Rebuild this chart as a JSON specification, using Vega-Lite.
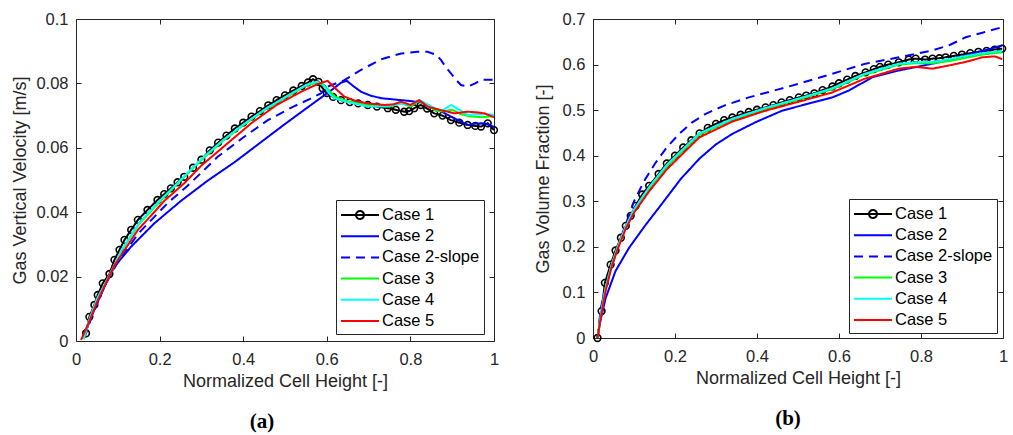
{
  "$schema": "https://vega.github.io/schema/vega-lite/v6.json",
  "background": "white",
  "padding": {"left": 11, "top": 10, "right": 5, "bottom": 5},
  "spacing": 31,
  "datasets": {
    "a": [
      {"series":"Case 1","h":0.024,"v":0.0024},{"series":"Case 1","h":0.032,"v":0.0075},{"series":"Case 1","h":0.044,"v":0.0112},{"series":"Case 1","h":0.052,"v":0.0143},{"series":"Case 1","h":0.064,"v":0.0179},{"series":"Case 1","h":0.08,"v":0.0208},{"series":"Case 1","h":0.092,"v":0.0252},{"series":"Case 1","h":0.104,"v":0.0283},{"series":"Case 1","h":0.116,"v":0.0314},{"series":"Case 1","h":0.132,"v":0.0345},{"series":"Case 1","h":0.148,"v":0.0376},{"series":"Case 1","h":0.171,"v":0.0407},{"series":"Case 1","h":0.195,"v":0.0438},{"series":"Case 1","h":0.211,"v":0.0456},{"series":"Case 1","h":0.227,"v":0.0474},{"series":"Case 1","h":0.243,"v":0.0493},{"series":"Case 1","h":0.259,"v":0.051},{"series":"Case 1","h":0.28,"v":0.0538},{"series":"Case 1","h":0.3,"v":0.0563},{"series":"Case 1","h":0.32,"v":0.0592},{"series":"Case 1","h":0.34,"v":0.0616},{"series":"Case 1","h":0.36,"v":0.0638},{"series":"Case 1","h":0.38,"v":0.066},{"series":"Case 1","h":0.4,"v":0.0678},{"series":"Case 1","h":0.42,"v":0.0697},{"series":"Case 1","h":0.44,"v":0.0714},{"series":"Case 1","h":0.46,"v":0.0732},{"series":"Case 1","h":0.48,"v":0.0748},{"series":"Case 1","h":0.5,"v":0.0763},{"series":"Case 1","h":0.52,"v":0.0778},{"series":"Case 1","h":0.54,"v":0.0792},{"series":"Case 1","h":0.555,"v":0.0803},{"series":"Case 1","h":0.567,"v":0.0813},{"series":"Case 1","h":0.58,"v":0.0805},{"series":"Case 1","h":0.59,"v":0.0785},{"series":"Case 1","h":0.6,"v":0.077},{"series":"Case 1","h":0.615,"v":0.0758},{"series":"Case 1","h":0.634,"v":0.0748},{"series":"Case 1","h":0.655,"v":0.0742},{"series":"Case 1","h":0.675,"v":0.0738},{"series":"Case 1","h":0.698,"v":0.0733},{"series":"Case 1","h":0.72,"v":0.0728},{"series":"Case 1","h":0.746,"v":0.0723},{"series":"Case 1","h":0.765,"v":0.0718},{"series":"Case 1","h":0.785,"v":0.0712},{"series":"Case 1","h":0.797,"v":0.0714},{"series":"Case 1","h":0.809,"v":0.0723},{"series":"Case 1","h":0.825,"v":0.0733},{"series":"Case 1","h":0.84,"v":0.0722},{"series":"Case 1","h":0.857,"v":0.0707},{"series":"Case 1","h":0.877,"v":0.07},{"series":"Case 1","h":0.897,"v":0.0686},{"series":"Case 1","h":0.917,"v":0.0678},{"series":"Case 1","h":0.937,"v":0.0671},{"series":"Case 1","h":0.955,"v":0.0668},{"series":"Case 1","h":0.969,"v":0.0666},{"series":"Case 1","h":0.985,"v":0.0676},{"series":"Case 1","h":1.0,"v":0.0655},
      {"series":"Case 2","h":0.02,"v":0.0019},{"series":"Case 2","h":0.04,"v":0.0085},{"series":"Case 2","h":0.068,"v":0.0169},{"series":"Case 2","h":0.092,"v":0.0231},{"series":"Case 2","h":0.132,"v":0.0293},{"series":"Case 2","h":0.187,"v":0.0365},{"series":"Case 2","h":0.251,"v":0.0435},{"series":"Case 2","h":0.315,"v":0.0498},{"series":"Case 2","h":0.379,"v":0.0555},{"series":"Case 2","h":0.44,"v":0.0615},{"series":"Case 2","h":0.498,"v":0.0672},{"series":"Case 2","h":0.54,"v":0.0712},{"series":"Case 2","h":0.578,"v":0.0748},{"series":"Case 2","h":0.61,"v":0.0778},{"series":"Case 2","h":0.634,"v":0.0802},{"series":"Case 2","h":0.648,"v":0.0808},{"series":"Case 2","h":0.665,"v":0.079},{"series":"Case 2","h":0.682,"v":0.0774},{"series":"Case 2","h":0.705,"v":0.0762},{"series":"Case 2","h":0.73,"v":0.0754},{"series":"Case 2","h":0.778,"v":0.0748},{"series":"Case 2","h":0.802,"v":0.0745},{"series":"Case 2","h":0.83,"v":0.074},{"series":"Case 2","h":0.857,"v":0.0723},{"series":"Case 2","h":0.875,"v":0.0712},{"series":"Case 2","h":0.897,"v":0.0697},{"series":"Case 2","h":0.92,"v":0.0682},{"series":"Case 2","h":0.937,"v":0.0671},{"series":"Case 2","h":0.955,"v":0.0675},{"series":"Case 2","h":0.977,"v":0.0676},{"series":"Case 2","h":1.0,"v":0.0665},
      {"series":"Case 2-slope","h":0.02,"v":0.001},{"series":"Case 2-slope","h":0.04,"v":0.0085},{"series":"Case 2-slope","h":0.07,"v":0.0175},{"series":"Case 2-slope","h":0.1,"v":0.0245},{"series":"Case 2-slope","h":0.15,"v":0.0335},{"series":"Case 2-slope","h":0.219,"v":0.0428},{"series":"Case 2-slope","h":0.267,"v":0.0482},{"series":"Case 2-slope","h":0.339,"v":0.0572},{"series":"Case 2-slope","h":0.4,"v":0.0632},{"series":"Case 2-slope","h":0.459,"v":0.0686},{"series":"Case 2-slope","h":0.52,"v":0.0728},{"series":"Case 2-slope","h":0.56,"v":0.0752},{"series":"Case 2-slope","h":0.586,"v":0.0769},{"series":"Case 2-slope","h":0.602,"v":0.079},{"series":"Case 2-slope","h":0.642,"v":0.081},{"series":"Case 2-slope","h":0.682,"v":0.0842},{"series":"Case 2-slope","h":0.73,"v":0.0875},{"series":"Case 2-slope","h":0.778,"v":0.0893},{"series":"Case 2-slope","h":0.817,"v":0.0898},{"series":"Case 2-slope","h":0.841,"v":0.0898},{"series":"Case 2-slope","h":0.86,"v":0.089},{"series":"Case 2-slope","h":0.873,"v":0.0873},{"series":"Case 2-slope","h":0.885,"v":0.085},{"series":"Case 2-slope","h":0.897,"v":0.0831},{"series":"Case 2-slope","h":0.91,"v":0.081},{"series":"Case 2-slope","h":0.921,"v":0.0795},{"series":"Case 2-slope","h":0.937,"v":0.079},{"series":"Case 2-slope","h":0.955,"v":0.08},{"series":"Case 2-slope","h":0.969,"v":0.0811},{"series":"Case 2-slope","h":1.0,"v":0.0811},
      {"series":"Case 3","h":0.018,"v":0.0005},{"series":"Case 3","h":0.03,"v":0.0058},{"series":"Case 3","h":0.05,"v":0.0128},{"series":"Case 3","h":0.08,"v":0.0203},{"series":"Case 3","h":0.11,"v":0.0283},{"series":"Case 3","h":0.15,"v":0.0362},{"series":"Case 3","h":0.2,"v":0.0432},{"series":"Case 3","h":0.25,"v":0.0498},{"series":"Case 3","h":0.3,"v":0.0562},{"series":"Case 3","h":0.35,"v":0.062},{"series":"Case 3","h":0.4,"v":0.067},{"series":"Case 3","h":0.45,"v":0.0716},{"series":"Case 3","h":0.5,"v":0.0755},{"series":"Case 3","h":0.55,"v":0.0793},{"series":"Case 3","h":0.578,"v":0.0803},{"series":"Case 3","h":0.59,"v":0.0795},{"series":"Case 3","h":0.6,"v":0.0785},{"series":"Case 3","h":0.62,"v":0.0758},{"series":"Case 3","h":0.65,"v":0.0745},{"series":"Case 3","h":0.7,"v":0.0733},{"series":"Case 3","h":0.75,"v":0.0728},{"series":"Case 3","h":0.78,"v":0.0738},{"series":"Case 3","h":0.8,"v":0.0728},{"series":"Case 3","h":0.82,"v":0.0745},{"series":"Case 3","h":0.84,"v":0.0735},{"series":"Case 3","h":0.86,"v":0.0715},{"series":"Case 3","h":0.88,"v":0.0713},{"series":"Case 3","h":0.9,"v":0.0718},{"series":"Case 3","h":0.92,"v":0.0705},{"series":"Case 3","h":0.94,"v":0.0698},{"series":"Case 3","h":0.97,"v":0.0695},{"series":"Case 3","h":1.0,"v":0.0698},
      {"series":"Case 4","h":0.018,"v":0.0006},{"series":"Case 4","h":0.03,"v":0.006},{"series":"Case 4","h":0.05,"v":0.013},{"series":"Case 4","h":0.08,"v":0.0205},{"series":"Case 4","h":0.11,"v":0.0285},{"series":"Case 4","h":0.15,"v":0.0365},{"series":"Case 4","h":0.2,"v":0.0435},{"series":"Case 4","h":0.25,"v":0.05},{"series":"Case 4","h":0.3,"v":0.0565},{"series":"Case 4","h":0.35,"v":0.0622},{"series":"Case 4","h":0.4,"v":0.0672},{"series":"Case 4","h":0.45,"v":0.0718},{"series":"Case 4","h":0.5,"v":0.0757},{"series":"Case 4","h":0.55,"v":0.0795},{"series":"Case 4","h":0.575,"v":0.0805},{"series":"Case 4","h":0.59,"v":0.08},{"series":"Case 4","h":0.605,"v":0.077},{"series":"Case 4","h":0.618,"v":0.0754},{"series":"Case 4","h":0.65,"v":0.0742},{"series":"Case 4","h":0.698,"v":0.0728},{"series":"Case 4","h":0.74,"v":0.0728},{"series":"Case 4","h":0.778,"v":0.0738},{"series":"Case 4","h":0.8,"v":0.0732},{"series":"Case 4","h":0.821,"v":0.0749},{"series":"Case 4","h":0.84,"v":0.0735},{"series":"Case 4","h":0.857,"v":0.0723},{"series":"Case 4","h":0.875,"v":0.0715},{"series":"Case 4","h":0.897,"v":0.0733},{"series":"Case 4","h":0.915,"v":0.072},{"series":"Case 4","h":0.937,"v":0.0702},{"series":"Case 4","h":0.96,"v":0.0705},{"series":"Case 4","h":0.98,"v":0.0705},{"series":"Case 4","h":1.0,"v":0.0702},
      {"series":"Case 5","h":0.012,"v":0.0003},{"series":"Case 5","h":0.03,"v":0.0055},{"series":"Case 5","h":0.05,"v":0.012},{"series":"Case 5","h":0.07,"v":0.0175},{"series":"Case 5","h":0.092,"v":0.0235},{"series":"Case 5","h":0.12,"v":0.029},{"series":"Case 5","h":0.148,"v":0.0345},{"series":"Case 5","h":0.18,"v":0.039},{"series":"Case 5","h":0.211,"v":0.0435},{"series":"Case 5","h":0.259,"v":0.049},{"series":"Case 5","h":0.3,"v":0.0545},{"series":"Case 5","h":0.35,"v":0.06},{"series":"Case 5","h":0.419,"v":0.0676},{"series":"Case 5","h":0.48,"v":0.0733},{"series":"Case 5","h":0.54,"v":0.0775},{"series":"Case 5","h":0.578,"v":0.0798},{"series":"Case 5","h":0.602,"v":0.0808},{"series":"Case 5","h":0.62,"v":0.0785},{"series":"Case 5","h":0.642,"v":0.0759},{"series":"Case 5","h":0.67,"v":0.0745},{"series":"Case 5","h":0.698,"v":0.0738},{"series":"Case 5","h":0.738,"v":0.0733},{"series":"Case 5","h":0.76,"v":0.0735},{"series":"Case 5","h":0.778,"v":0.0743},{"series":"Case 5","h":0.8,"v":0.0733},{"series":"Case 5","h":0.821,"v":0.0748},{"series":"Case 5","h":0.841,"v":0.0728},{"series":"Case 5","h":0.873,"v":0.0717},{"series":"Case 5","h":0.905,"v":0.0707},{"series":"Case 5","h":0.937,"v":0.0712},{"series":"Case 5","h":0.96,"v":0.071},{"series":"Case 5","h":0.977,"v":0.0707},{"series":"Case 5","h":1.0,"v":0.0695}
    ],
    "b": [
      {"series":"Case 1","h":0.011,"v":0},{"series":"Case 1","h":0.021,"v":0.059},{"series":"Case 1","h":0.029,"v":0.121},{"series":"Case 1","h":0.043,"v":0.161},{"series":"Case 1","h":0.055,"v":0.192},{"series":"Case 1","h":0.068,"v":0.22},{"series":"Case 1","h":0.08,"v":0.246},{"series":"Case 1","h":0.092,"v":0.268},{"series":"Case 1","h":0.104,"v":0.29},{"series":"Case 1","h":0.12,"v":0.315},{"series":"Case 1","h":0.137,"v":0.334},{"series":"Case 1","h":0.16,"v":0.36},{"series":"Case 1","h":0.18,"v":0.383},{"series":"Case 1","h":0.2,"v":0.4},{"series":"Case 1","h":0.22,"v":0.418},{"series":"Case 1","h":0.24,"v":0.434},{"series":"Case 1","h":0.26,"v":0.449},{"series":"Case 1","h":0.28,"v":0.461},{"series":"Case 1","h":0.3,"v":0.47},{"series":"Case 1","h":0.32,"v":0.478},{"series":"Case 1","h":0.34,"v":0.484},{"series":"Case 1","h":0.36,"v":0.49},{"series":"Case 1","h":0.38,"v":0.496},{"series":"Case 1","h":0.4,"v":0.501},{"series":"Case 1","h":0.421,"v":0.506},{"series":"Case 1","h":0.44,"v":0.511},{"series":"Case 1","h":0.46,"v":0.517},{"series":"Case 1","h":0.48,"v":0.522},{"series":"Case 1","h":0.502,"v":0.528},{"series":"Case 1","h":0.52,"v":0.532},{"series":"Case 1","h":0.54,"v":0.537},{"series":"Case 1","h":0.56,"v":0.544},{"series":"Case 1","h":0.584,"v":0.552},{"series":"Case 1","h":0.6,"v":0.559},{"series":"Case 1","h":0.62,"v":0.567},{"series":"Case 1","h":0.64,"v":0.575},{"series":"Case 1","h":0.665,"v":0.583},{"series":"Case 1","h":0.685,"v":0.59},{"series":"Case 1","h":0.7,"v":0.595},{"series":"Case 1","h":0.72,"v":0.6},{"series":"Case 1","h":0.746,"v":0.605},{"series":"Case 1","h":0.77,"v":0.611},{"series":"Case 1","h":0.787,"v":0.613},{"series":"Case 1","h":0.81,"v":0.611},{"series":"Case 1","h":0.828,"v":0.613},{"series":"Case 1","h":0.845,"v":0.614},{"series":"Case 1","h":0.86,"v":0.616},{"series":"Case 1","h":0.88,"v":0.619},{"series":"Case 1","h":0.9,"v":0.622},{"series":"Case 1","h":0.92,"v":0.625},{"series":"Case 1","h":0.94,"v":0.628},{"series":"Case 1","h":0.96,"v":0.63},{"series":"Case 1","h":0.98,"v":0.633},{"series":"Case 1","h":0.998,"v":0.635},
      {"series":"Case 2","h":0.011,"v":0},{"series":"Case 2","h":0.016,"v":0.03},{"series":"Case 2","h":0.031,"v":0.088},{"series":"Case 2","h":0.055,"v":0.147},{"series":"Case 2","h":0.088,"v":0.198},{"series":"Case 2","h":0.129,"v":0.249},{"series":"Case 2","h":0.16,"v":0.285},{"series":"Case 2","h":0.215,"v":0.35},{"series":"Case 2","h":0.26,"v":0.394},{"series":"Case 2","h":0.3,"v":0.425},{"series":"Case 2","h":0.34,"v":0.448},{"series":"Case 2","h":0.4,"v":0.475},{"series":"Case 2","h":0.462,"v":0.499},{"series":"Case 2","h":0.52,"v":0.513},{"series":"Case 2","h":0.584,"v":0.528},{"series":"Case 2","h":0.624,"v":0.543},{"series":"Case 2","h":0.681,"v":0.572},{"series":"Case 2","h":0.746,"v":0.587},{"series":"Case 2","h":0.828,"v":0.602},{"series":"Case 2","h":0.87,"v":0.61},{"series":"Case 2","h":0.909,"v":0.62},{"series":"Case 2","h":0.95,"v":0.63},{"series":"Case 2","h":0.998,"v":0.642},
      {"series":"Case 2-slope","h":0.011,"v":0},{"series":"Case 2-slope","h":0.019,"v":0.066},{"series":"Case 2-slope","h":0.039,"v":0.139},{"series":"Case 2-slope","h":0.071,"v":0.227},{"series":"Case 2-slope","h":0.1,"v":0.3},{"series":"Case 2-slope","h":0.125,"v":0.345},{"series":"Case 2-slope","h":0.153,"v":0.385},{"series":"Case 2-slope","h":0.18,"v":0.418},{"series":"Case 2-slope","h":0.21,"v":0.448},{"series":"Case 2-slope","h":0.24,"v":0.472},{"series":"Case 2-slope","h":0.275,"v":0.492},{"series":"Case 2-slope","h":0.32,"v":0.51},{"series":"Case 2-slope","h":0.38,"v":0.528},{"series":"Case 2-slope","h":0.45,"v":0.545},{"series":"Case 2-slope","h":0.502,"v":0.558},{"series":"Case 2-slope","h":0.584,"v":0.58},{"series":"Case 2-slope","h":0.665,"v":0.602},{"series":"Case 2-slope","h":0.746,"v":0.616},{"series":"Case 2-slope","h":0.828,"v":0.631},{"series":"Case 2-slope","h":0.87,"v":0.643},{"series":"Case 2-slope","h":0.909,"v":0.66},{"series":"Case 2-slope","h":0.95,"v":0.67},{"series":"Case 2-slope","h":0.998,"v":0.682},
      {"series":"Case 3","h":0.011,"v":0},{"series":"Case 3","h":0.02,"v":0.055},{"series":"Case 3","h":0.03,"v":0.105},{"series":"Case 3","h":0.045,"v":0.158},{"series":"Case 3","h":0.06,"v":0.198},{"series":"Case 3","h":0.08,"v":0.243},{"series":"Case 3","h":0.1,"v":0.28},{"series":"Case 3","h":0.137,"v":0.328},{"series":"Case 3","h":0.18,"v":0.376},{"series":"Case 3","h":0.259,"v":0.446},{"series":"Case 3","h":0.34,"v":0.479},{"series":"Case 3","h":0.421,"v":0.503},{"series":"Case 3","h":0.5,"v":0.523},{"series":"Case 3","h":0.584,"v":0.546},{"series":"Case 3","h":0.66,"v":0.577},{"series":"Case 3","h":0.746,"v":0.6},{"series":"Case 3","h":0.787,"v":0.603},{"series":"Case 3","h":0.828,"v":0.603},{"series":"Case 3","h":0.87,"v":0.608},{"series":"Case 3","h":0.91,"v":0.615},{"series":"Case 3","h":0.95,"v":0.622},{"series":"Case 3","h":0.998,"v":0.627},
      {"series":"Case 4","h":0.011,"v":0},{"series":"Case 4","h":0.02,"v":0.056},{"series":"Case 4","h":0.03,"v":0.108},{"series":"Case 4","h":0.045,"v":0.16},{"series":"Case 4","h":0.06,"v":0.2},{"series":"Case 4","h":0.08,"v":0.245},{"series":"Case 4","h":0.1,"v":0.282},{"series":"Case 4","h":0.137,"v":0.331},{"series":"Case 4","h":0.18,"v":0.38},{"series":"Case 4","h":0.259,"v":0.449},{"series":"Case 4","h":0.34,"v":0.481},{"series":"Case 4","h":0.421,"v":0.505},{"series":"Case 4","h":0.5,"v":0.525},{"series":"Case 4","h":0.584,"v":0.548},{"series":"Case 4","h":0.66,"v":0.579},{"series":"Case 4","h":0.746,"v":0.602},{"series":"Case 4","h":0.787,"v":0.605},{"series":"Case 4","h":0.828,"v":0.606},{"series":"Case 4","h":0.87,"v":0.612},{"series":"Case 4","h":0.91,"v":0.619},{"series":"Case 4","h":0.95,"v":0.625},{"series":"Case 4","h":0.998,"v":0.63},
      {"series":"Case 5","h":0.011,"v":0},{"series":"Case 5","h":0.02,"v":0.05},{"series":"Case 5","h":0.03,"v":0.1},{"series":"Case 5","h":0.045,"v":0.155},{"series":"Case 5","h":0.06,"v":0.195},{"series":"Case 5","h":0.08,"v":0.24},{"series":"Case 5","h":0.1,"v":0.275},{"series":"Case 5","h":0.137,"v":0.322},{"series":"Case 5","h":0.18,"v":0.37},{"series":"Case 5","h":0.259,"v":0.44},{"series":"Case 5","h":0.34,"v":0.475},{"series":"Case 5","h":0.421,"v":0.499},{"series":"Case 5","h":0.5,"v":0.518},{"series":"Case 5","h":0.584,"v":0.539},{"series":"Case 5","h":0.66,"v":0.568},{"series":"Case 5","h":0.746,"v":0.591},{"series":"Case 5","h":0.787,"v":0.595},{"series":"Case 5","h":0.828,"v":0.591},{"series":"Case 5","h":0.868,"v":0.598},{"series":"Case 5","h":0.91,"v":0.606},{"series":"Case 5","h":0.95,"v":0.616},{"series":"Case 5","h":0.98,"v":0.618},{"series":"Case 5","h":0.998,"v":0.612}
    ]
  },
  "hconcat": [
    {
      "width": 418,
      "height": 322,
      "data": {"name": "a"},
      "title": {"text": "(a)", "orient": "bottom", "font": "Liberation Serif", "fontSize": 21, "fontWeight": "bold", "color": "#000000", "offset": 20, "dx": -23, "anchor": "middle"},
      "layer": [
        {
          "transform": [{"filter": "datum.series === 'Case 1'"}],
          "mark": {"type": "point", "shape": "circle", "filled": false, "size": 45, "strokeWidth": 1.6, "color": "#000000", "opacity": 1},
          "encoding": {
            "x": {"field": "h", "type": "quantitative", "scale": {"domain": [0, 1], "nice": false, "zero": false}, "axis": null},
            "y": {"field": "v", "type": "quantitative", "scale": {"domain": [0, 0.1], "nice": false}, "axis": null}
          }
        },
        {
          "mark": {"type": "line", "strokeWidth": 2},
          "encoding": {
            "x": {"field": "h", "type": "quantitative", "axis": {"orient": "bottom", "title": "Normalized Cell Height [-]", "values": [0, 0.2, 0.4, 0.6, 0.8, 1], "titlePadding": 5}},
            "y": {"field": "v", "type": "quantitative", "axis": {"orient": "left", "title": "Gas Vertical Velocity [m/s]", "values": [0, 0.02, 0.04, 0.06, 0.08, 0.1], "titlePadding": 6}},
            "color": {"field": "series", "type": "nominal", "scale": {"domain": ["Case 1", "Case 2", "Case 2-slope", "Case 3", "Case 4", "Case 5"], "range": ["#000000", "#0000ff", "#0000ff", "#00ff00", "#00ffff", "#ff0000"]}, "legend": {"orient": "none", "legendX": 260, "legendY": 181, "encode": {"symbols": {"update": {"shape": {"signal": "datum.value === 'Case 1' ? 'M-1,0L2.8,0M1.3,0A0.4,0.4,0,1,1,0.5,0A0.4,0.4,0,1,1,1.3,0' : 'M-1,0L2.8,0'"}}}}}},
            "strokeDash": {"field": "series", "type": "nominal", "scale": {"domain": ["Case 1", "Case 2", "Case 2-slope", "Case 3", "Case 4", "Case 5"], "range": [[1, 0], [1, 0], [9, 6], [1, 0], [1, 0], [1, 0]]}, "legend": {"orient": "none", "legendX": 260, "legendY": 181}}
          }
        },
        {
          "mark": {"type": "line", "opacity": 0},
          "encoding": {
            "x": {"field": "h", "type": "quantitative", "axis": {"orient": "top", "title": null, "labels": false, "values": [0, 0.2, 0.4, 0.6, 0.8, 1]}},
            "y": {"field": "v", "type": "quantitative", "axis": {"orient": "right", "title": null, "labels": false, "values": [0, 0.02, 0.04, 0.06, 0.08, 0.1]}},
            "detail": {"field": "series"}
          }
        }
      ],
      "resolve": {"axis": {"x": "independent", "y": "independent"}}
    },
    {
      "width": 410,
      "height": 319,
      "data": {"name": "b"},
      "title": {"text": "(b)", "orient": "bottom", "font": "Liberation Serif", "fontSize": 21, "fontWeight": "bold", "color": "#000000", "offset": 20, "dx": -10, "anchor": "middle"},
      "layer": [
        {
          "transform": [{"filter": "datum.series === 'Case 1'"}],
          "mark": {"type": "point", "shape": "circle", "filled": false, "size": 45, "strokeWidth": 1.6, "color": "#000000", "opacity": 1},
          "encoding": {
            "x": {"field": "h", "type": "quantitative", "scale": {"domain": [0, 1], "nice": false, "zero": false}, "axis": null},
            "y": {"field": "v", "type": "quantitative", "scale": {"domain": [0, 0.7], "nice": false}, "axis": null}
          }
        },
        {
          "mark": {"type": "line", "strokeWidth": 2},
          "encoding": {
            "x": {"field": "h", "type": "quantitative", "axis": {"orient": "bottom", "title": "Normalized Cell Height [-]", "values": [0, 0.2, 0.4, 0.6, 0.8, 1], "titlePadding": 5}},
            "y": {"field": "v", "type": "quantitative", "axis": {"orient": "left", "title": "Gas Volume Fraction [-]", "values": [0, 0.1, 0.2, 0.3, 0.4, 0.5, 0.6, 0.7], "titlePadding": 10}},
            "color": {"field": "series", "type": "nominal", "scale": {"domain": ["Case 1", "Case 2", "Case 2-slope", "Case 3", "Case 4", "Case 5"], "range": ["#000000", "#0000ff", "#0000ff", "#00ff00", "#00ffff", "#ff0000"]}, "legend": {"orient": "none", "legendX": 256, "legendY": 180, "encode": {"symbols": {"update": {"shape": {"signal": "datum.value === 'Case 1' ? 'M-1,0L2.8,0M1.3,0A0.4,0.4,0,1,1,0.5,0A0.4,0.4,0,1,1,1.3,0' : 'M-1,0L2.8,0'"}}}}}},
            "strokeDash": {"field": "series", "type": "nominal", "scale": {"domain": ["Case 1", "Case 2", "Case 2-slope", "Case 3", "Case 4", "Case 5"], "range": [[1, 0], [1, 0], [9, 6], [1, 0], [1, 0], [1, 0]]}, "legend": {"orient": "none", "legendX": 256, "legendY": 180}}
          }
        },
        {
          "mark": {"type": "line", "opacity": 0},
          "encoding": {
            "x": {"field": "h", "type": "quantitative", "axis": {"orient": "top", "title": null, "labels": false, "values": [0, 0.2, 0.4, 0.6, 0.8, 1]}},
            "y": {"field": "v", "type": "quantitative", "axis": {"orient": "right", "title": null, "labels": false, "values": [0, 0.1, 0.2, 0.3, 0.4, 0.5, 0.6, 0.7]}},
            "detail": {"field": "series"}
          }
        }
      ],
      "resolve": {"axis": {"x": "independent", "y": "independent"}}
    }
  ],
  "resolve": {"scale": {"color": "independent", "strokeDash": "independent"}, "legend": {"color": "independent", "strokeDash": "independent"}},
  "config": {
    "view": {"stroke": "#262626", "strokeWidth": 1},
    "font": "Liberation Sans",
    "axis": {
      "labelFont": "Liberation Sans", "labelFontSize": 16.5, "labelColor": "#262626",
      "titleFont": "Liberation Sans", "titleFontSize": 18, "titleFontWeight": "normal", "titleColor": "#262626",
      "tickColor": "#262626", "tickSize": -5, "tickWidth": 1, "labelPadding": 13,
      "domain": false, "grid": false, "labelFlush": false, "labelOverlap": false, "format": "~g"
    },
    "axisX": {"labelPadding": 15},
    "legend": {
      "title": null,
      "symbolType": "M-1,0L2.8,0", "symbolSize": 400, "symbolStrokeWidth": 2,
      "labelFont": "Liberation Sans", "labelFontSize": 16.5, "labelColor": "#000000", "labelOffset": 20,
      "rowPadding": 1.2, "padding": 4, "strokeColor": "#262626", "fillColor": "#ffffff", "cornerRadius": 0,
      "labelLimit": 300
    }
  }
}
